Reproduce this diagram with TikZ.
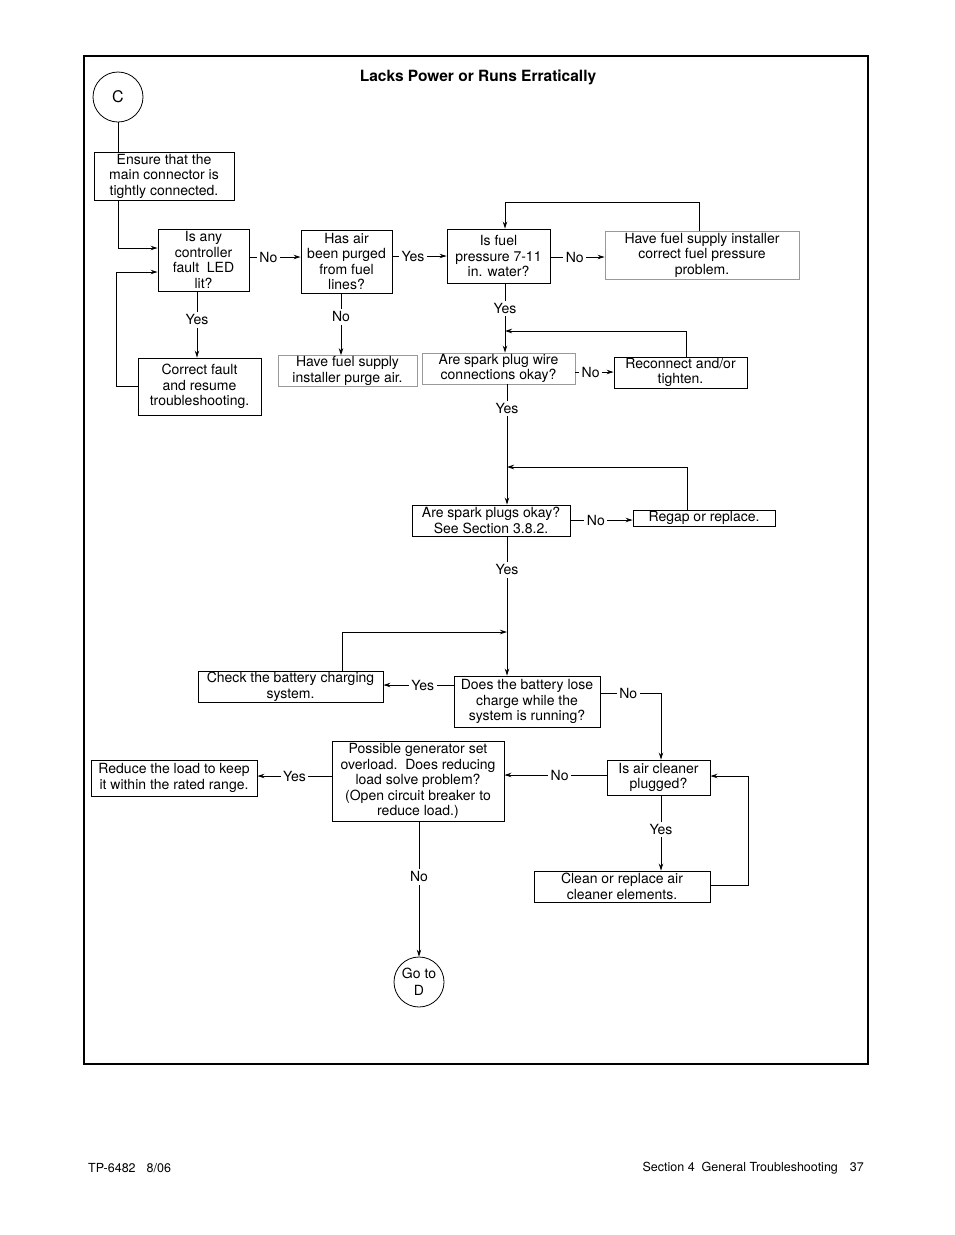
\documentclass[tikz,border=0pt]{standalone}
\usepackage{fontspec}
\setmainfont{TeX Gyre Heros}
\usetikzlibrary{arrows.meta}

\begin{document}
\begin{tikzpicture}[x=1pt,y=-1pt,
  box/.style={draw,line width=0.9pt,align=center,inner sep=1pt,font=\fontsize{14}{15.5}\selectfont},
  graybox/.style={box,draw=black!40},
  conn/.style={draw,circle,line width=0.8pt,minimum size=50pt,inner sep=0pt,align=center,font=\fontsize{14}{17}\selectfont},
  lbl/.style={fill=white,inner sep=2.5pt,font=\fontsize{14}{15.5}\selectfont},
  line/.style={line width=0.9pt},
  arr/.style={line,-{Stealth[length=7pt,width=4.5pt]}}]
\useasboundingbox (0,0) rectangle (954,1235);
\draw[line width=1.2pt] (84,56) rectangle (868,1064);
\node[font=\bfseries\fontsize{15.5}{18}\selectfont] (title) at (478,77) {Lacks Power or Runs Erratically};

% boxes
\node[conn,font=\fontsize{16}{18}\selectfont] (C) at (118,97) {C};
\node[box,minimum width=140,minimum height=48] (ens) at (164,176) {Ensure that the\\main connector is\\tightly connected.};
\node[box,minimum width=91,minimum height=62] (ctl) at (203.5,260) {Is any\\controller\\fault\ \ LED\\lit?};
\node[box,minimum width=123,minimum height=57] (cor) at (199.5,386.5) {Correct fault\\and resume\\troubleshooting.};
\node[box,minimum width=91,minimum height=63] (air) at (346.5,261.5) {Has air\\been purged\\from fuel\\lines?};
\node[graybox,minimum width=139,minimum height=30] (purge) at (347.5,371) {Have fuel supply\\installer purge air.};
\node[box,minimum width=103,minimum height=54] (fuel) at (498.5,256) {Is fuel\\pressure 7-11\\in. water?};
\node[graybox,minimum width=194,minimum height=48] (inst) at (702,255) {Have fuel supply installer\\correct fuel pressure\\problem.};
\node[graybox,minimum width=153,minimum height=31] (wire) at (498.5,368.5) {Are spark plug wire\\connections okay?};
\node[box,minimum width=133,minimum height=31] (recon) at (680.5,372.5) {Reconnect and/or\\tighten.};
\node[box,minimum width=158,minimum height=31] (plugs) at (491,520.5) {Are spark plugs okay?\\See Section 3.8.2.};
\node[box,minimum width=142,minimum height=16] (regap) at (704,518) {Regap or replace.};
\node[box,minimum width=185,minimum height=30] (chk) at (290.5,687) {Check the battery charging\\system.};
\node[box,minimum width=146,minimum height=51] (bat) at (527,701.5) {Does the battery lose\\charge while the\\system is running?};
\node[box,minimum width=172,minimum height=80] (gen) at (418,781) {Possible generator set\\overload.\ \ Does reducing\\load solve problem?\\(Open circuit breaker to\\reduce load.)};
\node[box,minimum width=166,minimum height=36] (red) at (174,778) {Reduce the load to keep\\it within the rated range.};
\node[box,minimum width=103,minimum height=35] (clr) at (658.5,777.5) {Is air cleaner\\plugged?};
\node[box,minimum width=176,minimum height=31] (cln) at (622,886.5) {Clean or replace air\\cleaner elements.};
\node[conn] (D) at (419,982) {Go to\\D};

% joins
\coordinate (j1) at (505,331);
\coordinate (j2) at (507,467);
\coordinate (j3) at (507,632);

% connectors
\draw[line] (C) -- (C |- ens.north);
\draw[arr] (C |- ens.south) |- (ctl.west |- 0,248);
\draw[arr] (cor.west) -- ++(-21,0) |- (ctl.west |- 0,272);
\draw[arr] (ctl.south -| 197,0) -- node[lbl,pos=0.43] {Yes} (cor.north -| 197,0);
\draw[arr] (ctl.east |- 0,257) -- node[lbl,pos=0.37] {No} (air.west |- 0,257);
\draw[arr] (air.south -| 341,0) -- node[lbl,pos=0.38] {No} (purge.north -| 341,0);
\draw[arr] (air.east |- 0,256) -- node[lbl,pos=0.38] {Yes} (fuel.west |- 0,256);
\draw[arr] (fuel.east |- 0,257) -- node[lbl,pos=0.45] {No} (inst.west |- 0,257);
\draw[arr] (inst.north -| 699,0) -- ++(0,-28) -| (fuel.north -| 505,0);
\draw[arr] (fuel.south -| 505,0) -- node[lbl,pos=0.36] {Yes} (wire.north -| 505,0);
\draw[arr] (wire.east |- 0,372) -- node[lbl,pos=0.4] {No} (recon.west |- 0,372);
\draw[arr] (recon.north -| 686,0) |- (j1);
\draw[arr] (wire.south -| 507,0) -- node[lbl,pos=0.2] {Yes} (plugs.north -| 507,0);
\draw[arr] (regap.north -| 687,0) |- (j2);
\draw[arr] (plugs.east |- 0,520) -- node[lbl,pos=0.41] {No} (regap.west |- 0,520);
\draw[arr] (plugs.south -| 507,0) -- node[lbl,pos=0.24] {Yes} (bat.north -| 507,0);
\draw[arr] (chk.north -| 342,0) |- (j3);
\draw[arr] (bat.west |- 0,685) -- node[lbl,pos=0.44] {Yes} (chk.east |- 0,685);
\draw[arr] (bat.east |- 0,693) -| node[lbl,pos=0.23] {No} (clr.north -| 661,0);
\draw[arr] (clr.west |- 0,775) -- node[lbl,pos=0.46] {No} (gen.east |- 0,775);
\draw[arr] (gen.west |- 0,776) -- node[lbl] {Yes} (red.east |- 0,776);
\draw[arr] (clr.south -| 661,0) -- node[lbl,pos=0.45] {Yes} (cln.north -| 661,0);
\draw[arr] (cln.east |- 0,885) -- ++(38,0) |- (clr.east |- 0,776);
\draw[arr] (gen.south -| 419,0) -- node[lbl,pos=0.41] {No} (D.north);

% footer
\node[anchor=west,inner sep=0pt,font=\fontsize{12.5}{15}\selectfont] (foot1) at (88,1168) {TP-6482\hspace{11pt}8/06};
\node[anchor=east,inner sep=0pt,font=\fontsize{12.5}{15}\selectfont] (foot2) at (864,1168) {Section 4\ \ General Troubleshooting\hspace{12pt}37};
\end{tikzpicture}
\end{document}
